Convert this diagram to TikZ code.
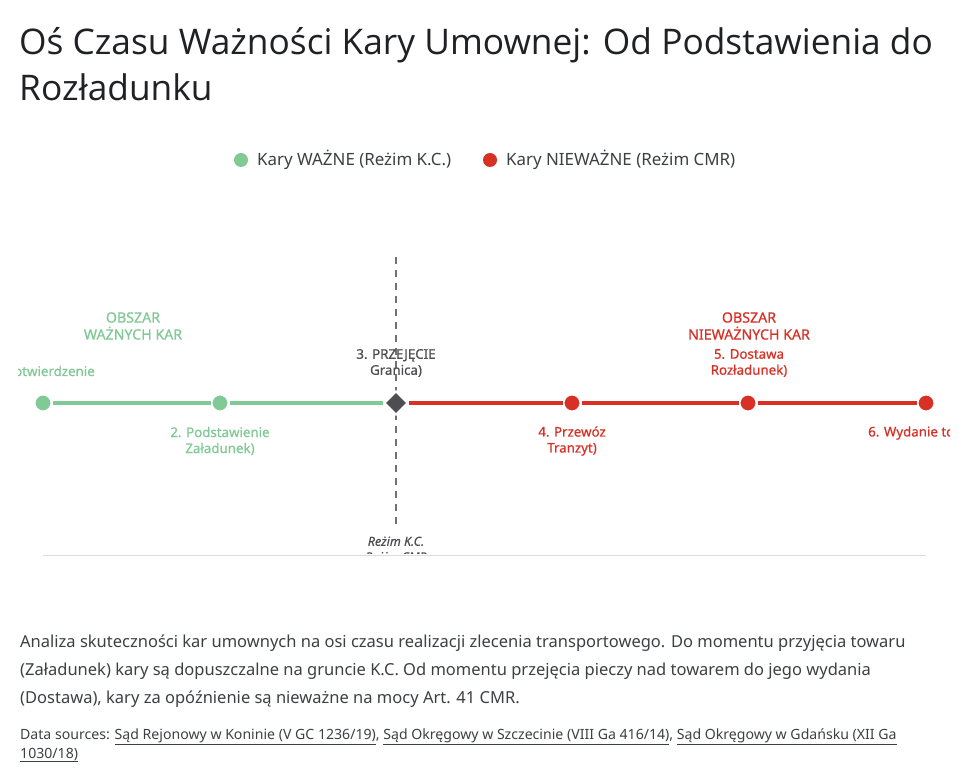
\documentclass[tikz,border=0pt]{standalone}
\usepackage{fontspec}
\setmainfont{Noto Sans}
\newfontfamily\titlefont{Open Sans}
\newfontfamily\medfont[FakeBold=0.6]{Noto Sans}
\usetikzlibrary{shapes.geometric}
\definecolor{okgreen}{HTML}{81C995}
\definecolor{badred}{HTML}{D93025}
\definecolor{darkg}{HTML}{4D4D52}
\definecolor{titlec}{HTML}{202124}
\definecolor{bodyc}{HTML}{3C4043}
\definecolor{axisc}{HTML}{DADCE0}
\tikzset{
  gdot/.style={circle, fill=okgreen, draw=white, line width=2pt, minimum size=17pt, inner sep=0pt},
  rdot/.style={circle, fill=badred, draw=white, line width=2pt, minimum size=17pt, inner sep=0pt},
  gate/.style={diamond, fill=darkg, draw=white, line width=2pt, minimum size=24pt, inner sep=0pt},
  lbl/.style={font=\medfont\fontsize{13.3}{16}\selectfont, align=center, inner sep=0pt},
  reg/.style={font=\medfont\fontsize{14.2}{17}\selectfont, align=center, inner sep=0pt},
  legtxt/.style={font=\fontsize{16.9}{20}\selectfont, text=bodyc, anchor=west, inner sep=0pt},
  bodytxt/.style={font=\fontsize{16.5}{19}\selectfont, text=bodyc, anchor=base west, inner sep=0pt},
  srctxt/.style={font=\fontsize{14.1}{16}\selectfont, text=bodyc, anchor=base west, inner sep=0pt},
}
\begin{document}
\begin{tikzpicture}[x=1pt,y=-1pt]
\useasboundingbox[fill=white] (0,0) rectangle (969,783);
% title
\node[font=\titlefont\fontsize{35.3}{40}\selectfont, text=titlec, anchor=base west, inner sep=0pt] (t1) at (19,55) {Oś Czasu Ważności Kary Umownej: Od Podstawienia do};
\node[font=\titlefont\fontsize{35.3}{40}\selectfont, text=titlec, anchor=base west, inner sep=0pt] (t2) at (19,101) {Rozładunku};
% legend
\node[circle, fill=okgreen, minimum size=14pt, inner sep=0pt] (lg) at (241,160) {};
\node[legtxt] (lgt) at (257,160) {Kary WAŻNE (Reżim K.C.)};
\node[circle, fill=badred, minimum size=14pt, inner sep=0pt] (lr) at (490,160) {};
\node[legtxt] (lrt) at (506,160) {Kary NIEWAŻNE (Reżim CMR)};
% axis line
\coordinate (axl) at (43,555);
\coordinate (axr) at (926,555);
\draw[axisc, line width=1pt] (axl) -- (axr);
% dashed border line
\coordinate (dtop) at (396,257);
\coordinate (dbot) at (396,530);
\draw[darkg!80, line width=1.3pt, dash pattern=on 7pt off 6pt] (dtop) -- (dbot);
% markers
\node[gdot] (m1) at (43,403) {};
\node[gdot] (m2) at (220,403) {};
\node[gate] (m3) at (396,403) {};
\node[rdot] (m4) at (572,403) {};
\node[rdot] (m5) at (748,403) {};
\node[rdot] (m6) at (926,403) {};
% timeline
\draw[okgreen, line width=4pt] (m1) -- (m2);
\draw[okgreen, line width=4pt] (m2) -- (m3);
\draw[badred, line width=4pt] (m3) -- (m4);
\draw[badred, line width=4pt] (m4) -- (m5);
\draw[badred, line width=4pt] (m5) -- (m6);
% region labels
\node[reg, text=okgreen] (ra) at (133,326) {OBSZAR\\WAŻNYCH KAR};
\node[reg, text=badred] (rb) at (749,326) {OBSZAR\\NIEWAŻNYCH KAR};
% point labels
\begin{scope}
\clip (18,350) rectangle (200,390);
\node[lbl, text=okgreen, anchor=west] (l1) at (14,371) {otwierdzenie};
\end{scope}
\node[lbl, text=okgreen] (l2) at (220,441) {2. Podstawienie\\Załadunek)};
\node[lbl, text=darkg] (l3) at (396,363) {3. PRZEJĘCIE\\Granica)};
\node[lbl, text=badred] (l4) at (572,441) {4. Przewóz\\Tranzyt)};
\node[lbl, text=badred] (l5) at (749,363) {5. Dostawa\\Rozładunek)};
\begin{scope}
\clip (800,420) rectangle (950,450);
\node[lbl, text=badred, anchor=west] (l6) at (868,433) {6. Wydanie to};
\end{scope}
\begin{scope}
\clip (300,530) rectangle (500,553);
\node[lbl, text=darkg, font=\medfont\itshape\fontsize{12.5}{15.5}\selectfont] (rz) at (396,549) {Reżim K.C.\\Reżim CMR};
\end{scope}
% description
\node[bodytxt] (d1) at (20,647) {Analiza skuteczności kar umownych na osi czasu realizacji zlecenia transportowego. Do momentu przyjęcia towaru};
\node[bodytxt] (d2) at (20,675) {(Załadunek) kary są dopuszczalne na gruncie K.C. Od momentu przejęcia pieczy nad towarem do jego wydania};
\node[bodytxt] (d3) at (20,703) {(Dostawa), kary za opóźnienie są nieważne na mocy Art. 41 CMR.};
\node[srctxt] (s1) at (20,739) {Data sources: \underline{Sąd Rejonowy w Koninie (V GC 1236/19)}, \underline{Sąd Okręgowy w Szczecinie (VIII Ga 416/14)}, \underline{Sąd Okręgowy w Gdańsku (XII Ga}};
\node[srctxt] (s2) at (20,758) {\underline{1030/18)}};
\end{tikzpicture}
\end{document}
